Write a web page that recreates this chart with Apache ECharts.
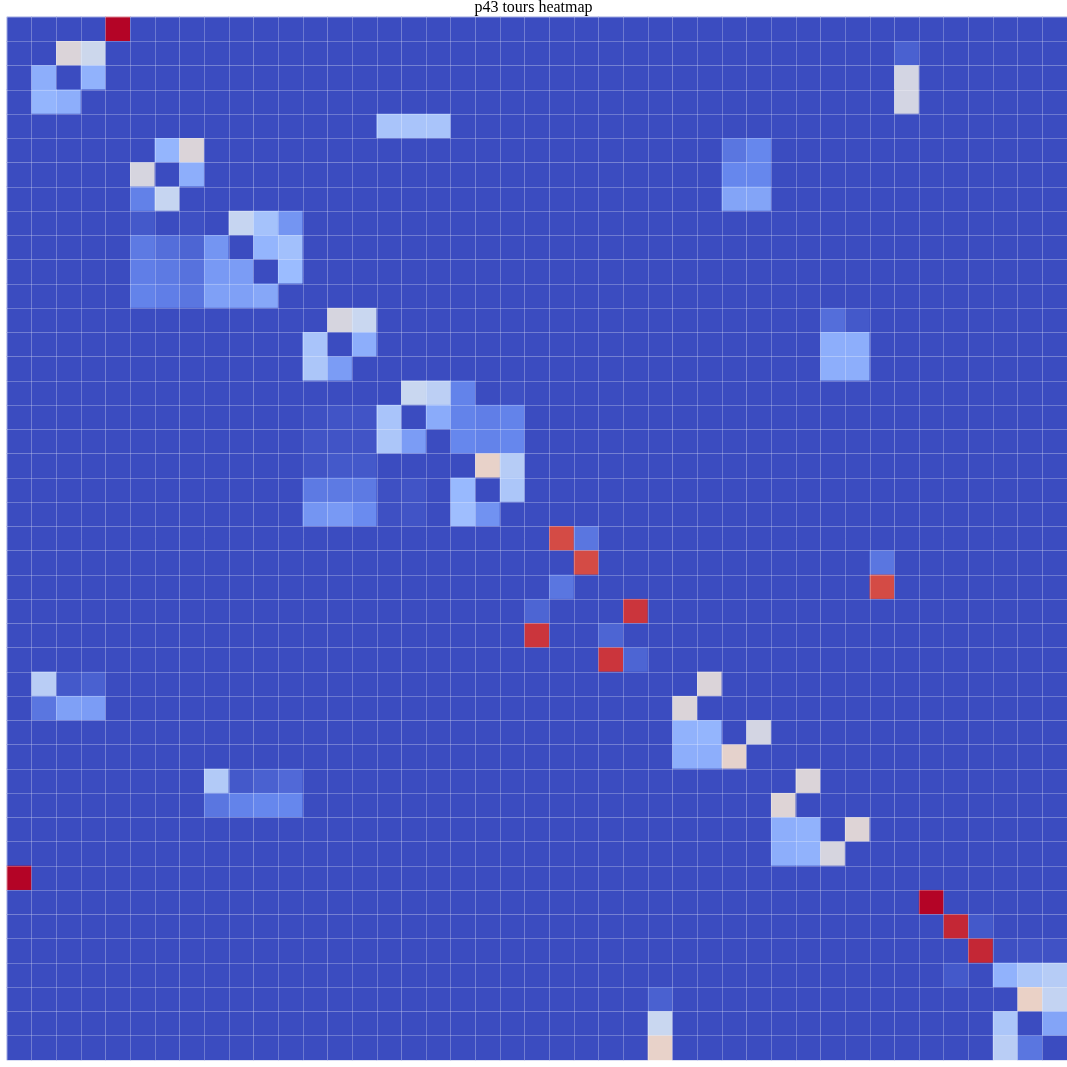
<!DOCTYPE html>
<html>
<head>
<meta charset="utf-8">
<script src="https://cdn.jsdelivr.net/npm/echarts@6/dist/echarts.min.js"></script>
<style>html,body{margin:0;padding:0;background:#fff}#chart{width:1067px;height:1067px}</style>
</head>
<body>
<div id="chart"></div>
<script>
const N = 43;
const categories = Array.from({length: N}, (_, i) => String(i));
const titleText = 'p43 tours heatmap';
// background cells are 0; non-zero cells as [row, col, value]
const block1 = [[0,4,1.0],[1,2,0.5],[1,3,0.44],[2,1,0.25],[2,3,0.26],[3,1,0.27],[3,2,0.25],[35,0,1.0]];
const block2 = [[1,36,0.05],[2,36,0.47],[3,36,0.47],[4,15,0.33],[4,16,0.33],[4,17,0.33]];
const block3 = [[5,6,0.27],[5,7,0.5],[6,5,0.48],[6,7,0.25],[7,5,0.125],[7,6,0.42],
  [5,29,0.1],[5,30,0.14],[6,29,0.14],[6,30,0.14],[7,29,0.22],[7,30,0.22]];
const block4 = [[8,5,0.03],[8,7,0.01],[8,9,0.42],[8,10,0.32],[8,11,0.18],
  [9,5,0.11],[9,6,0.08],[9,7,0.06],[9,8,0.18],[9,10,0.27],[9,11,0.31],
  [10,5,0.12],[10,6,0.11],[10,7,0.09],[10,8,0.19],[10,9,0.2],[10,11,0.29],
  [11,5,0.13],[11,6,0.12],[11,7,0.1],[11,8,0.21],[11,9,0.21],[11,10,0.23]];
const block5 = [[12,13,0.48],[12,14,0.43],[13,12,0.33],[13,14,0.25],[14,12,0.34],[14,13,0.2],
  [12,33,0.08],[12,34,0.03],[13,33,0.25],[13,34,0.25],[14,33,0.25],[14,34,0.25]];
const block6 = [[15,16,0.43],[15,17,0.39],[15,18,0.13],[15,20,0.01],
  [16,12,0.01],[16,13,0.02],[16,14,0.02],[16,15,0.33],[16,17,0.24],[16,18,0.13],[16,19,0.12],[16,20,0.13],
  [17,12,0.02],[17,13,0.02],[17,14,0.02],[17,15,0.34],[17,16,0.2],[17,18,0.14],[17,19,0.13],[17,20,0.14],
  [18,12,0.02],[18,13,0.03],[18,14,0.03],[18,19,0.55],[18,20,0.37],
  [19,12,0.11],[19,13,0.11],[19,14,0.11],[19,15,0.01],[19,16,0.02],[19,18,0.28],[19,20,0.34],
  [20,12,0.18],[20,13,0.19],[20,14,0.15],[20,15,0.01],[20,16,0.02],[20,18,0.3],[20,19,0.17]];
const block7 = [[21,22,0.9],[21,23,0.1],[22,23,0.9],[22,35,0.1],[23,22,0.1],[23,35,0.9],
  [24,21,0.06],[24,25,0.93],[25,21,0.93],[25,24,0.06],[26,24,0.93],[26,25,0.06]];
const block8 = [[27,1,0.38],[27,2,0.03],[27,3,0.05],[28,1,0.1],[28,2,0.21],[28,3,0.2],
  [27,28,0.5],[28,27,0.5],[29,27,0.26],[29,28,0.27],[29,30,0.47],[30,27,0.25],[30,28,0.25],[30,29,0.54]];
const block9 = [[31,8,0.36],[31,9,0.03],[31,10,0.05],[31,11,0.07],[32,8,0.1],[32,9,0.13],[32,10,0.14],[32,11,0.14],
  [31,32,0.5],[32,31,0.51],[33,31,0.25],[33,32,0.26],[33,34,0.51],[34,31,0.25],[34,32,0.26],[34,33,0.48]];
const block10 = [[36,37,1.0],[37,38,0.95],[37,39,0.03],[38,39,0.95],[38,40,0.01],[38,41,0.015],[38,42,0.015],
  [39,38,0.03],[39,40,0.26],[39,41,0.34],[39,42,0.37],
  [40,26,0.05],[40,41,0.56],[40,42,0.41],[41,26,0.43],[41,40,0.34],[41,42,0.22],
  [42,26,0.55],[42,40,0.38],[42,41,0.1]];
const coolwarm = ['#3b4cc0','#6788ee','#9abbff','#c9d7f0','#edd1c2','#f7a889','#e26952','#b40426'];

const allCells = [].concat(block1,block2,block3,block4,block5,block6,block7,block8,block9,block10);
const matrix = Array.from({length: N}, () => new Array(N).fill(0));
allCells.forEach(([r,c,v]) => { matrix[r][c] = v; });
const data = [];
for (let r = 0; r < N; r++) for (let c = 0; c < N; c++) data.push([c, r, matrix[r][c]]);

const chart = echarts.init(document.getElementById('chart'), null, {renderer: 'canvas'});
const gridLine = {show: true, lineStyle: {color: 'rgba(255,255,255,0.25)', width: 1}};
chart.setOption({
  animation: false,
  title: {text: titleText, left: 'center', top: 0, padding: 0,
    textStyle: {fontFamily: 'Liberation Serif', fontSize: 16, fontWeight: 'normal', color: '#000'}},
  grid: {left: 7, right: 0, top: 17, bottom: 7},
  xAxis: {type: 'category', data: categories, z: 10, axisLine: {show: false}, axisTick: {show: false},
    axisLabel: {show: false}, splitLine: gridLine},
  yAxis: {type: 'category', data: categories, inverse: true, z: 10, axisLine: {show: false}, axisTick: {show: false},
    axisLabel: {show: false}, splitLine: gridLine},
  visualMap: {show: false, min: 0, max: 1, calculable: false, inRange: {color: coolwarm}},
  series: [{type: 'heatmap', data: data, itemStyle: {borderWidth: 0}, emphasis: {disabled: true}}]
});
</script>
</body>
</html>
